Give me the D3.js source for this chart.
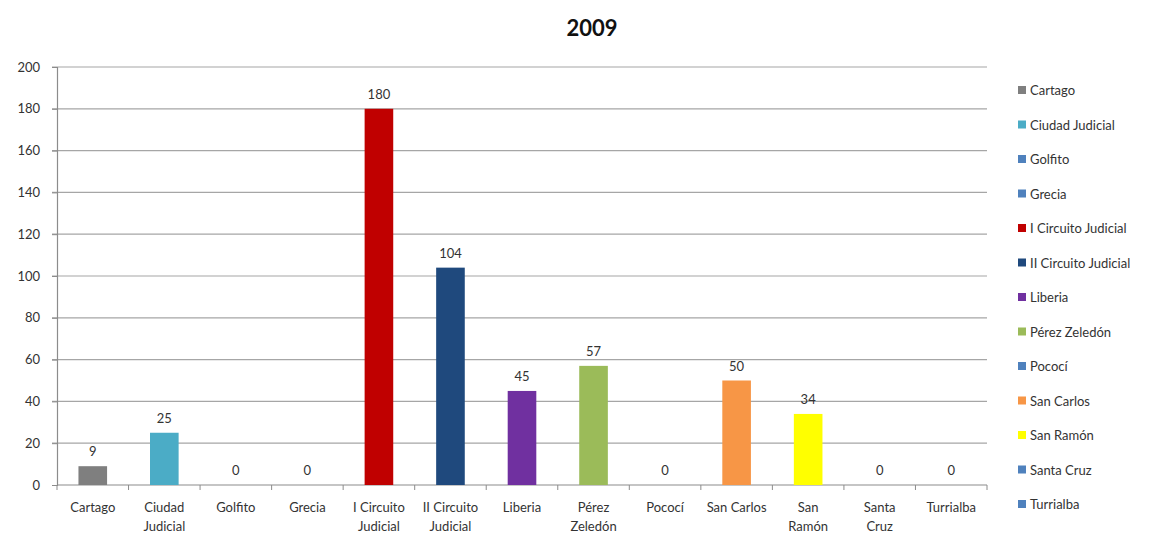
<!DOCTYPE html>
<html>
<head>
<meta charset="utf-8">
<script src="https://cdn.jsdelivr.net/npm/d3@7"></script>
<style>
  html, body { margin: 0; padding: 0; background: #fff; }
  svg { display: block; font-family: Lato, "Open Sans", "DejaVu Sans", sans-serif; }
</style>
</head>
<body>
<svg id="chart" width="1158" height="539"></svg>
<script>
// Cases per judicial office, 2009
const categories = ["Cartago", "Ciudad Judicial", "Golfito", "Grecia", "I Circuito Judicial",
  "II Circuito Judicial", "Liberia", "Pérez Zeledón", "Pococí", "San Carlos", "San Ramón",
  "Santa Cruz", "Turrialba"];
const axisLabels = [["Cartago"], ["Ciudad", "Judicial"], ["Golfito"], ["Grecia"],
  ["I Circuito", "Judicial"], ["II Circuito", "Judicial"], ["Liberia"], ["Pérez", "Zeledón"],
  ["Pococí"], ["San Carlos"], ["San", "Ramón"], ["Santa", "Cruz"], ["Turrialba"]];
const values = [9, 25, 0, 0, 180, 104, 45, 57, 0, 50, 34, 0, 0];
const colors = ["#7f7f7f", "#4bacc6", "#4f81bd", "#4f81bd", "#c00000", "#1f497d", "#7030a0",
  "#9bbb59", "#4f81bd", "#f79646", "#ffff00", "#4f81bd", "#4f81bd"];
const yTicks = [0, 20, 40, 60, 80, 100, 120, 140, 160, 180, 200];
const title = "2009";

const svg = d3.select("#chart");
const plot = { left: 57, right: 987, top: 67, bottom: 485 };

const x = d3.scaleBand().domain(categories).range([plot.left, plot.right]).paddingInner(0).paddingOuter(0);
const y = d3.scaleLinear().domain([0, 200]).range([plot.bottom, plot.top]);
const barW = x.bandwidth() * 0.4;

// title
svg.append("text")
  .attr("x", 592).attr("y", 36)
  .attr("text-anchor", "middle")
  .attr("font-size", 22).attr("font-weight", "bold").attr("fill", "#111")
  .text(title);

// horizontal gridlines
svg.append("g").selectAll("line")
  .data(yTicks.filter(d => d > 0))
  .join("line")
  .attr("x1", plot.left - 5).attr("x2", plot.right)
  .attr("y1", d => y(d)).attr("y2", d => y(d))
  .attr("stroke", "#a6a6a6").attr("stroke-width", 1.2);

// y axis
const yAxis = svg.append("g")
  .attr("transform", `translate(${plot.left},0)`)
  .call(d3.axisLeft(y).tickValues(yTicks).tickSize(5).tickPadding(12));
yAxis.select(".domain").attr("stroke", "#8c8c8c").attr("stroke-width", 1.2);
yAxis.selectAll(".tick line").attr("stroke", "#8c8c8c");
yAxis.selectAll(".tick text").attr("font-size", 13).attr("fill", "#333")
  .style("font-family", "Lato, 'Open Sans', sans-serif");

// x axis with ticks at category boundaries
const xg = svg.append("g");
xg.append("line")
  .attr("x1", plot.left).attr("x2", plot.right)
  .attr("y1", plot.bottom).attr("y2", plot.bottom)
  .attr("stroke", "#8c8c8c").attr("stroke-width", 1.2);
xg.selectAll("line.tk")
  .data(categories.map(c => x(c)).concat([plot.right]))
  .join("line").attr("class", "tk")
  .attr("x1", d => d).attr("x2", d => d)
  .attr("y1", plot.bottom).attr("y2", plot.bottom + 5)
  .attr("stroke", "#8c8c8c");

const lbl = xg.selectAll("text.cat")
  .data(categories)
  .join("text").attr("class", "cat")
  .attr("text-anchor", "middle")
  .attr("font-size", 13).attr("fill", "#333");
lbl.each(function (d, i) {
  const t = d3.select(this);
  axisLabels[i].forEach((line, j) => {
    t.append("tspan")
      .attr("x", x(d) + x.bandwidth() / 2)
      .attr("y", 512 + j * 19)
      .text(line);
  });
});

// bars
svg.append("g").selectAll("rect")
  .data(categories)
  .join("rect")
  .attr("x", d => x(d) + (x.bandwidth() - barW) / 2)
  .attr("width", barW)
  .attr("y", (d, i) => y(values[i]))
  .attr("height", (d, i) => y(0) - y(values[i]))
  .attr("fill", (d, i) => colors[i]);

// value labels
svg.append("g").selectAll("text")
  .data(categories)
  .join("text")
  .attr("x", d => x(d) + x.bandwidth() / 2)
  .attr("y", (d, i) => y(values[i]) - 10)
  .attr("text-anchor", "middle")
  .attr("font-size", 13).attr("fill", "#333")
  .text((d, i) => values[i]);

// legend
const lg = svg.append("g").attr("transform", "translate(1018,91)");
const row = lg.selectAll("g")
  .data(categories)
  .join("g")
  .attr("transform", (d, i) => `translate(0,${i * 34.5})`);
row.append("rect")
  .attr("x", 0).attr("y", -5).attr("width", 8).attr("height", 8)
  .attr("fill", (d, i) => colors[i]);
row.append("text")
  .attr("x", 12).attr("y", 4)
  .attr("font-size", 13).attr("fill", "#333")
  .text(d => d);
</script>
</body>
</html>
